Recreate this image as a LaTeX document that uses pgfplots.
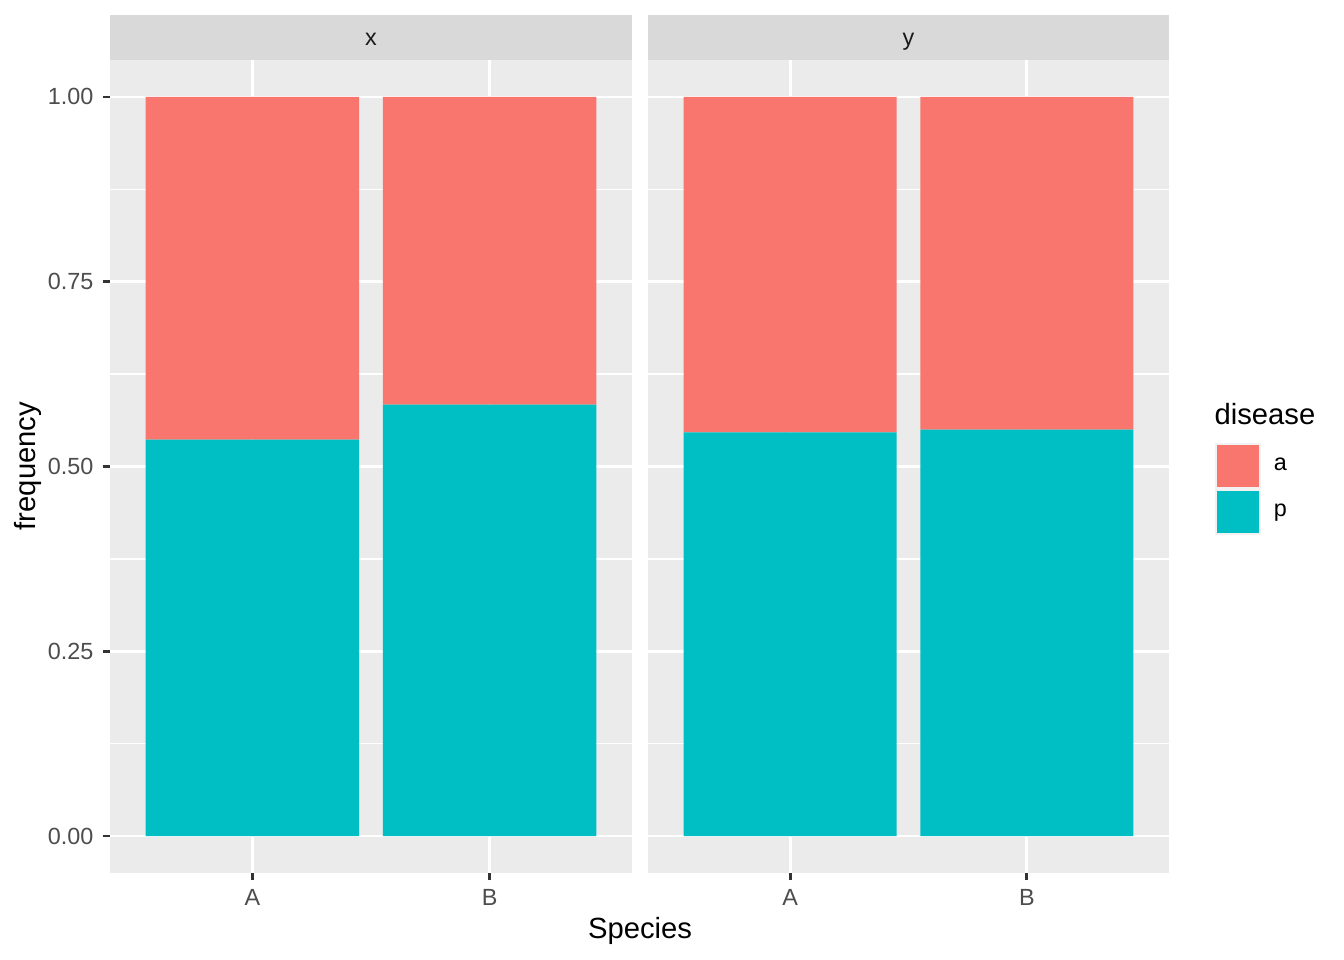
\documentclass[border=0pt]{standalone}
\usepackage{pgfplots}
\pgfplotsset{compat=1.18}
\usepackage{fontspec}
\setmainfont{Liberation Sans}
\definecolor{ca}{HTML}{F8766D}
\definecolor{cp}{HTML}{00BFC4}
\definecolor{panelbg}{HTML}{EBEBEB}
\definecolor{stripbg}{HTML}{D9D9D9}
\definecolor{ticklab}{HTML}{4D4D4D}
\definecolor{tickcol}{HTML}{333333}
\definecolor{striptext}{HTML}{1A1A1A}
\definecolor{keybg}{HTML}{F2F2F2}
\pgfplotsset{
 facet/.style={
  scale only axis, height=304.875bp,
  xmin=0.4, xmax=2.6, ymin=-0.05, ymax=1.05,
  ybar stacked, bar width=0.9,
  xtick={1,2}, xticklabels={A,B},
  ytick={0,0.25,0.5,0.75,1},
  minor ytick={0.125,0.375,0.625,0.875},
  xtick pos=bottom, ytick pos=left,
  grid=both,
  major grid style={white, line width=1.07bp},
  minor grid style={white, line width=0.53bp},
  axis line style={draw=none},
  axis background/.style={fill=panelbg},
  tick align=outside, major tick length=2.75pt, minor tick length=0pt,
  tick style={tickcol, line width=1.07bp},
  ticklabel style={font=\fontsize{8.8}{10}\selectfont, text=ticklab},
  /pgf/number format/assume math mode=true,
  yticklabel style={/pgf/number format/.cd, fixed, fixed zerofill, precision=2},
  anchor=south west,
  legend image code/.code={
    \fill[keybg] (0bp,-8.625bp) rectangle (17.25bp,8.625bp);
    \fill[#1] (0.75bp,-7.875bp) rectangle (16.5bp,7.875bp);
  },
 }
}
\begin{document}
\begin{tikzpicture}
\path (0,0) rectangle (504bp,360bp);
% strips
\fill[stripbg] (41.25bp,337.5bp) rectangle (237bp,354.375bp);
\fill[stripbg] (243bp,337.5bp) rectangle (438.375bp,354.375bp);
\node[text=striptext, font=\fontsize{8.8}{10}\selectfont, anchor=base, inner sep=0pt] at (139.125bp,343.1bp) {x};
\node[text=striptext, font=\fontsize{8.8}{10}\selectfont, anchor=base, inner sep=0pt] at (340.7bp,343.1bp) {y};
\begin{axis}[facet, at={(41.25bp,32.625bp)}, width=195.75bp]
\addplot[fill=cp, draw=none] coordinates {(1,0.5365) (2,0.5838)};
\addplot[fill=ca, draw=none] coordinates {(1,0.4635) (2,0.4162)};
\end{axis}
\begin{axis}[facet, at={(243bp,32.625bp)}, width=195.375bp,
  yticklabels={}, y tick style={draw=none},
  legend entries={p,a}, reverse legend,
  legend style={at={(1.0864,0.5295)}, anchor=north west, draw=none, fill=none,
    inner sep=0pt, row sep=0pt, column sep=3bp,
    font=\fontsize{8.8}{10}\selectfont, text=black},
  legend cell align=left]
\addplot[fill=cp, draw=none] coordinates {(1,0.546) (2,0.550)};
\addplot[fill=ca, draw=none] coordinates {(1,0.454) (2,0.450)};
\end{axis}
\node[font=\fontsize{11}{13}\selectfont] at (240bp,11bp) {Species};
\node[font=\fontsize{11}{13}\selectfont, rotate=90] at (10.5bp,185.25bp) {frequency};
\node[font=\fontsize{11}{13}\selectfont, anchor=base west, inner sep=0pt] at (455.25bp,200.8bp) {disease};
\end{tikzpicture}
\end{document}
